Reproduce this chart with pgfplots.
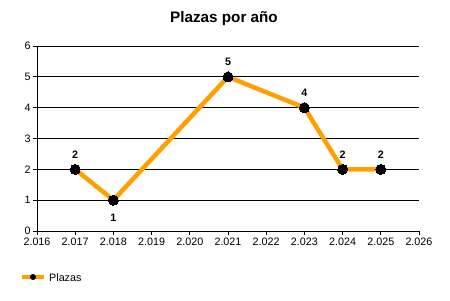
\documentclass[border=0pt]{standalone}
\usepackage{pgfplots}
\pgfplotsset{compat=1.18}
\usepackage{fontspec}
\setmainfont{Liberation Sans}
\definecolor{lineorange}{HTML}{FFA000}
\begin{document}
\begin{tikzpicture}[x=1bp,y=1bp]
\useasboundingbox (0,0) rectangle (450,300);
\node[font=\fontsize{15.3}{17}\selectfont\bfseries] at (224,281) {Plazas por año};
\begin{axis}[
  at={(37bp,69bp)}, anchor=south west,
  scale only axis, width=382bp, height=185bp,
  xmin=2016, xmax=2026, ymin=0, ymax=6,
  xtick={2016,...,2026}, ytick={0,...,6},
  xticklabels={2.016,2.017,2.018,2.019,2.020,2.021,2.022,2.023,2.024,2.025,2.026},
  axis x line*=bottom, axis y line*=left,
  axis line style={black, line width=0.8pt, -},
  tick style={black, line width=0.8pt},
  tick align=outside, major tick length=4bp,
  ymajorgrids, grid style={black, line width=0.8pt},
  tick label style={font=\fontsize{10.8}{12}\selectfont},
  /pgf/number format/assume math mode=true,
  xticklabel style={yshift=1bp},
  yticklabel style={xshift=1bp},
  clip=false,
]
\addplot[lineorange, line width=4.5bp, mark=*, mark size=5bp,
  mark options={fill=black, draw=black, line width=0pt},
  nodes near coords, point meta=explicit symbolic,
  every node near coord/.append style={font=\fontsize{10.8}{12}\selectfont\bfseries, black, anchor=center, yshift=15bp}]
  coordinates {(2017,2)[2] (2018,1) (2021,5)[5] (2023,4)[4] (2024,2)[2] (2025,2)[2]};
\addplot[draw=none, mark=none, nodes near coords, point meta=explicit symbolic,
  every node near coord/.append style={font=\fontsize{10.8}{12}\selectfont\bfseries, black, anchor=center, yshift=-18bp}]
  coordinates {(2018,1)[1]};
\end{axis}
\draw[lineorange, line width=4.5bp] (22,23) -- (44,23);
\fill[black] (33,23) circle (3bp);
\node[anchor=west, font=\fontsize{10.8}{12}\selectfont, inner sep=0pt] at (49,22.5) {Plazas};
\end{tikzpicture}
\end{document}
